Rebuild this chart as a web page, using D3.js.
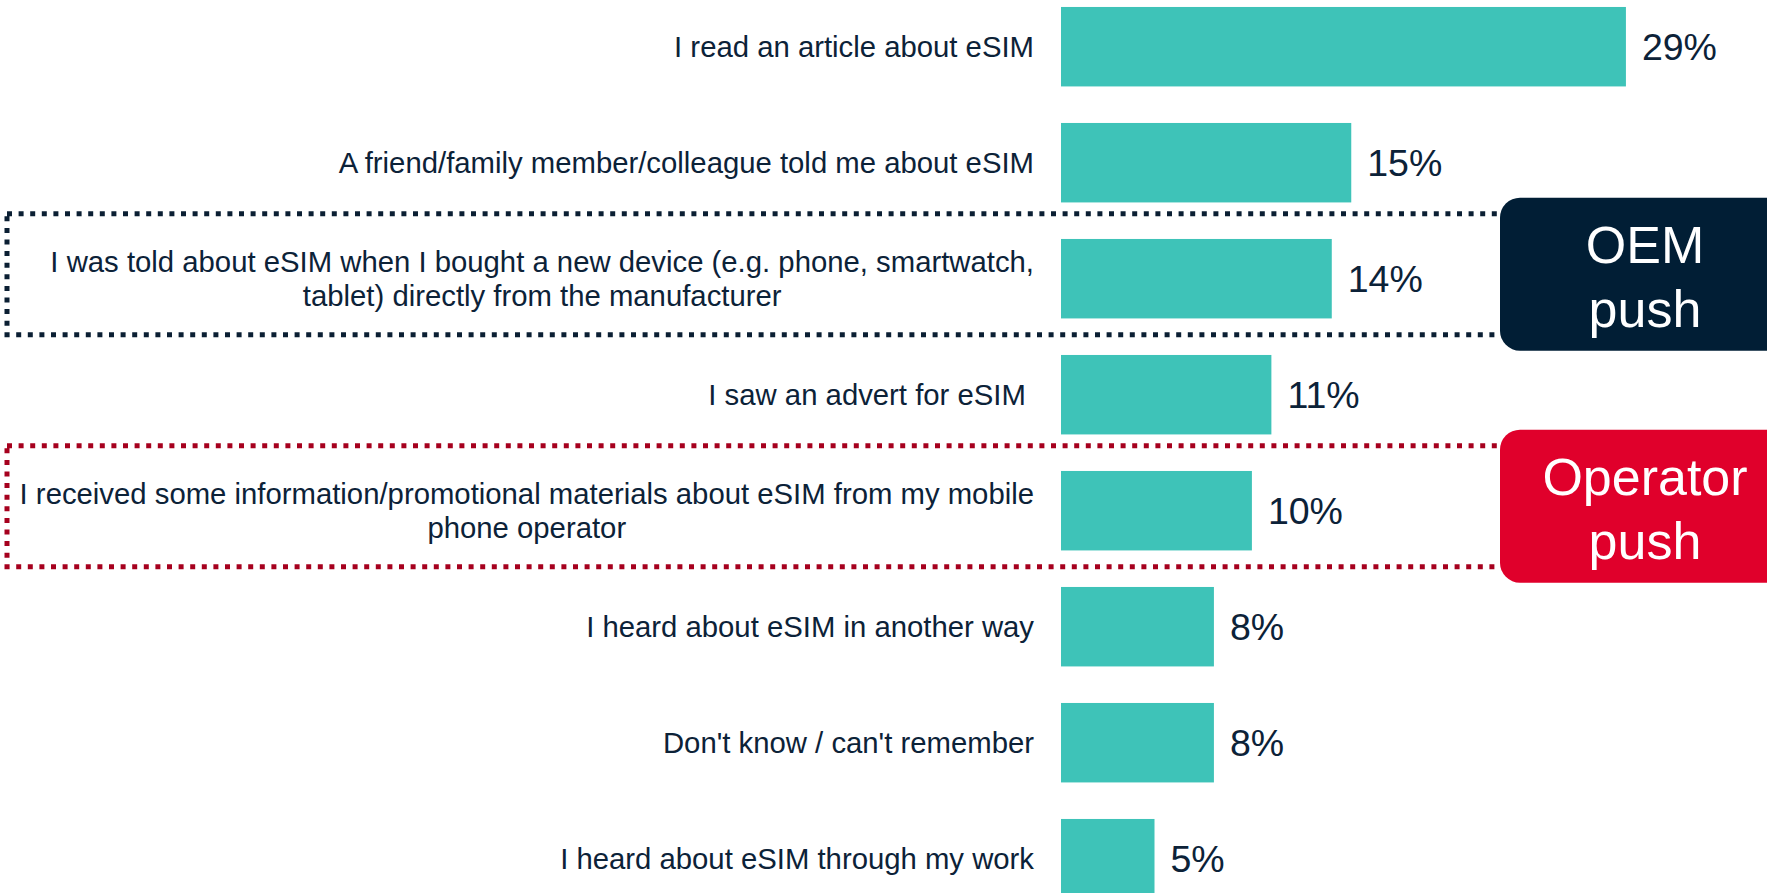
<!DOCTYPE html>
<html>
<head>
<meta charset="utf-8">
<script src="https://cdn.jsdelivr.net/npm/d3@7"></script>
<style>
  html, body { margin: 0; padding: 0; background: #fff; }
  svg { display: block; font-family: "Liberation Sans", Arial, sans-serif; }
  .cat-label { font-size: 29.3px; fill: #0c2238; white-space: pre; }
  .value-label { font-size: 37.5px; fill: #0c2238; }
  .tag-text { font-size: 52px; fill: #fff; }
</style>
</head>
<body>
<div id="chart"></div>
<script>
'use strict';

// how respondents heard about eSIM (share of respondents, %)
var categories = [
  'I read an article about eSIM',
  'A friend/family member/colleague told me about eSIM',
  'I was told about eSIM when I bought a new device (e.g. phone, smartwatch,\ntablet) directly from the manufacturer',
  'I saw an advert for eSIM ',
  'I received some information/promotional materials about eSIM from my mobile\nphone operator',
  'I heard about eSIM in another way',
  'Don\'t know / can\'t remember',
  'I heard about eSIM through my work'
];

var values = [29.0, 14.9, 13.9, 10.8, 9.8, 7.85, 7.85, 4.8];

// callout boxes around single categories
var callouts = [
  { category: 2, lines: ['OEM', 'push'], fill: '#011e35', dots: '#0b1f33' },
  { category: 4, lines: ['Operator', 'push'], fill: '#e0002b', dots: '#a6001e' }
];

var width = 1767,
    height = 893;

var svg = d3.select('#chart').append('svg')
    .attr('width', width)
    .attr('height', height);

var y = d3.scaleBand()
    .domain(d3.range(categories.length))
    .range([-11.3, -11.3 + 116 * categories.length])
    .paddingInner(0.315)
    .paddingOuter(0.1575);

var x = d3.scaleLinear()
    .domain([0, 30])
    .range([1061, 1061 + 30 * 19.48]);

var labelRight = 1034;
var fmt = function(v) { return d3.format('.0f')(v) + '%'; };

function center(i) {
  return y(i) + y.bandwidth() / 2;
}

// dotted outlines (drawn first so tags sit on top of them)
svg.append('g').selectAll('rect')
    .data(callouts)
    .enter().append('rect')
    .attr('x', 7)
    .attr('y', function(d) { return center(d.category) - 65; })
    .attr('width', 1530)
    .attr('height', 121)
    .attr('fill', 'none')
    .attr('stroke', function(d) { return d.dots; })
    .attr('stroke-width', 5)
    .attr('stroke-dasharray', '5 6.6');

// bars
svg.append('g').selectAll('rect')
    .data(values)
    .enter().append('rect')
    .attr('x', x(0))
    .attr('y', function(d, i) { return y(i); })
    .attr('width', function(d) { return x(d) - x(0); })
    .attr('height', y.bandwidth())
    .attr('fill', '#3ec3b8');

// value labels
svg.append('g').selectAll('text')
    .data(values)
    .enter().append('text')
    .attr('class', 'value-label')
    .attr('x', function(d) { return x(d) + 16; })
    .attr('y', function(d, i) { return center(i) + 13; })
    .text(fmt);

// category labels, wrapped lines centred within a right-aligned block
var labels = svg.append('g').selectAll('g')
    .data(categories)
    .enter().append('g');

labels.each(function(d, i) {
  var g = d3.select(this);
  var lines = d.split('\n');
  var lineHeight = 34;
  var first = center(i) + 10 - (lines.length - 1) * lineHeight / 2;

  var texts = g.selectAll('text')
      .data(lines)
      .enter().append('text')
      .attr('class', 'cat-label')
      .attr('y', function(l, j) { return first + j * lineHeight; })
      .text(function(l) { return l; });

  if (lines.length === 1) {
    texts.attr('x', labelRight).attr('text-anchor', 'end');
  } else {
    var w = d3.max(texts.nodes(), function(n) { return n.getComputedTextLength(); });
    texts.attr('x', labelRight - w / 2).attr('text-anchor', 'middle');
  }
});

// tags on the right
var tags = svg.append('g').selectAll('g')
    .data(callouts)
    .enter().append('g');

tags.append('rect')
    .attr('x', 1500)
    .attr('y', function(d) { return center(d.category) - 81; })
    .attr('width', 300)
    .attr('height', 153)
    .attr('rx', 20)
    .attr('fill', function(d) { return d.fill; });

tags.selectAll('text')
    .data(function(d) {
      return d.lines.map(function(l, j) {
        return { text: l, y: center(d.category) - 16 + j * 64 };
      });
    })
    .enter().append('text')
    .attr('class', 'tag-text')
    .attr('x', 1645)
    .attr('y', function(d) { return d.y; })
    .attr('text-anchor', 'middle')
    .text(function(d) { return d.text; });
</script>
</body>
</html>
